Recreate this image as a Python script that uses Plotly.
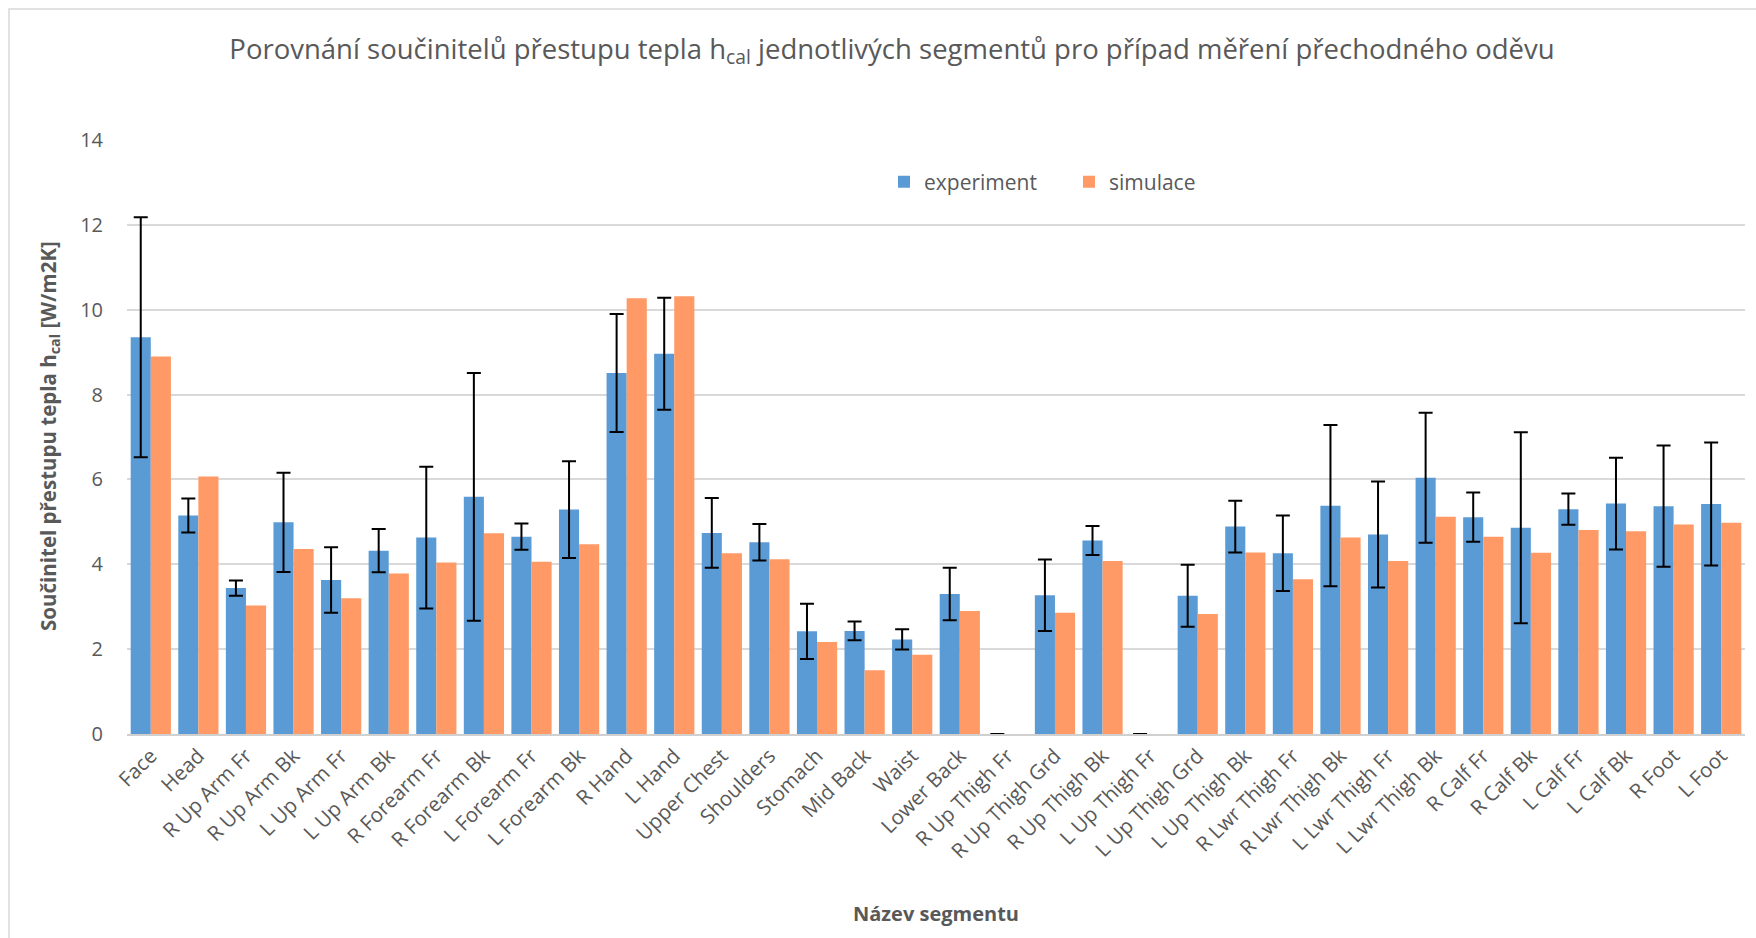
import plotly.graph_objects as go

segments = [
    "Face", "Head", "R Up Arm Fr", "R Up Arm Bk", "L Up Arm Fr", "L Up Arm Bk",
    "R Forearm Fr", "R Forearm Bk", "L Forearm Fr", "L Forearm Bk", "R Hand", "L Hand",
    "Upper Chest", "Shoulders", "Stomach", "Mid Back", "Waist", "Lower Back",
    "R Up Thigh Fr", "R Up Thigh Grd", "R Up Thigh Bk", "L Up Thigh Fr", "L Up Thigh Grd",
    "L Up Thigh Bk", "R Lwr Thigh Fr", "R Lwr Thigh Bk", "L Lwr Thigh Fr", "L Lwr Thigh Bk",
    "R Calf Fr", "R Calf Bk", "L Calf Fr", "L Calf Bk", "R Foot", "L Foot",
]

experiment = [
    9.35, 5.15, 3.44, 4.99, 3.63, 4.32,
    4.63, 5.59, 4.65, 5.29, 8.51, 8.96,
    4.74, 4.52, 2.42, 2.43, 2.23, 3.30,
    0.0, 3.27, 4.56, 0.0, 3.26,
    4.89, 4.26, 5.38, 4.70, 6.04,
    5.11, 4.86, 5.30, 5.43, 5.37, 5.42,
]

experiment_err = [
    2.83, 0.40, 0.18, 1.17, 0.77, 0.51,
    1.67, 2.92, 0.31, 1.14, 1.39, 1.32,
    0.82, 0.43, 0.65, 0.22, 0.24, 0.62,
    None, 0.84, 0.34, None, 0.73,
    0.61, 0.89, 1.90, 1.25, 1.53,
    0.58, 2.25, 0.37, 1.08, 1.43, 1.45,
]

simulace = [
    8.90, 6.07, 3.03, 4.36, 3.20, 3.78,
    4.04, 4.73, 4.06, 4.47, 10.27, 10.32,
    4.26, 4.12, 2.17, 1.50, 1.87, 2.90,
    0.0, 2.86, 4.08, 0.0, 2.83,
    4.28, 3.65, 4.63, 4.08, 5.12,
    4.65, 4.27, 4.81, 4.78, 4.94, 4.98,
]

y_ticks = [0, 2, 4, 6, 8, 10, 12, 14]

BLUE = "#5B9BD5"
ORANGE = "#FF9966"
TEXT = "#595959"
FONT = "Open Sans"

err_vals = [float("nan") if e is None else e for e in experiment_err]

fig = go.Figure()
fig.add_trace(go.Bar(
    x=segments, y=experiment, name="experiment",
    marker=dict(color=BLUE, line=dict(width=0)),
    error_y=dict(type="data", array=err_vals, visible=True,
                 color="black", thickness=2, width=7),
))
fig.add_trace(go.Bar(
    x=segments, y=simulace, name="simulace",
    marker=dict(color=ORANGE, line=dict(width=0)),
))

W, H = 1756, 938
L, R, T, B = 127, 11, 140, 204
pw = W - L - R
ph = H - T - B

def px_x(px):
    return (px - L) / pw

def px_y(py):
    return (H - B - py) / ph

fig.update_layout(
    width=W, height=H,
    margin=dict(l=L, r=R, t=T, b=B, pad=0),
    paper_bgcolor="white", plot_bgcolor="white",
    barmode="group", bargap=0.155, bargroupgap=0,
    font=dict(family=FONT, color=TEXT, size=20),
    title=dict(
        text="Porovnání součinitelů přestupu tepla h<sub>cal</sub> jednotlivých segmentů pro případ měření přechodného oděvu",
        x=892 / W, xref="container", xanchor="center",
        y=1 - 49 / H, yref="container", yanchor="middle",
        font=dict(family=FONT, size=27.5, color=TEXT),
    ),
    legend=dict(
        orientation="h", x=px_x(884), y=px_y(182), xanchor="left", yanchor="middle",
        font=dict(family=FONT, size=21, color=TEXT),
        entrywidth=140, entrywidthmode="pixels",
        bgcolor="rgba(0,0,0,0)", itemclick=False,
    ),
    xaxis=dict(
        tickangle=-45, showgrid=False, showline=True, linecolor="#D0D0D0", linewidth=1.5,
        tickfont=dict(family=FONT, size=20.5, color=TEXT),
        ticks="", ticklen=0,
        automargin=False,
    ),
    yaxis=dict(
        range=[0, 14], tickvals=y_ticks, showgrid=True, gridcolor="#D9D9D9", gridwidth=1.5,
        zeroline=False, showline=False, ticks="", ticklabelstandoff=23,
        tickfont=dict(family=FONT, size=20, color=TEXT),
        automargin=False,
    ),
    showlegend=True,
)

# axis titles
fig.add_annotation(
    text="<b>Název segmentu</b>", xref="paper", yref="paper",
    x=px_x(936), y=px_y(913), xanchor="center", yanchor="middle", showarrow=False,
    font=dict(family=FONT, size=20, color=TEXT),
)
fig.add_annotation(
    text="<b>Součinitel přestupu tepla h<sub>cal</sub> [W/m2K]</b>", xref="paper", yref="paper",
    x=px_x(49), y=px_y(436), xanchor="center", yanchor="middle", showarrow=False,
    textangle=-90, font=dict(family=FONT, size=20.5, color=TEXT),
)

# chart-area border
fig.add_shape(type="rect", xref="paper", yref="paper",
              x0=px_x(9), x1=px_x(W + 20), y0=px_y(H + 20), y1=px_y(9),
              line=dict(color="#D9D9D9", width=1.5), fillcolor="rgba(0,0,0,0)", layer="below")

fig.write_html("out.html")
